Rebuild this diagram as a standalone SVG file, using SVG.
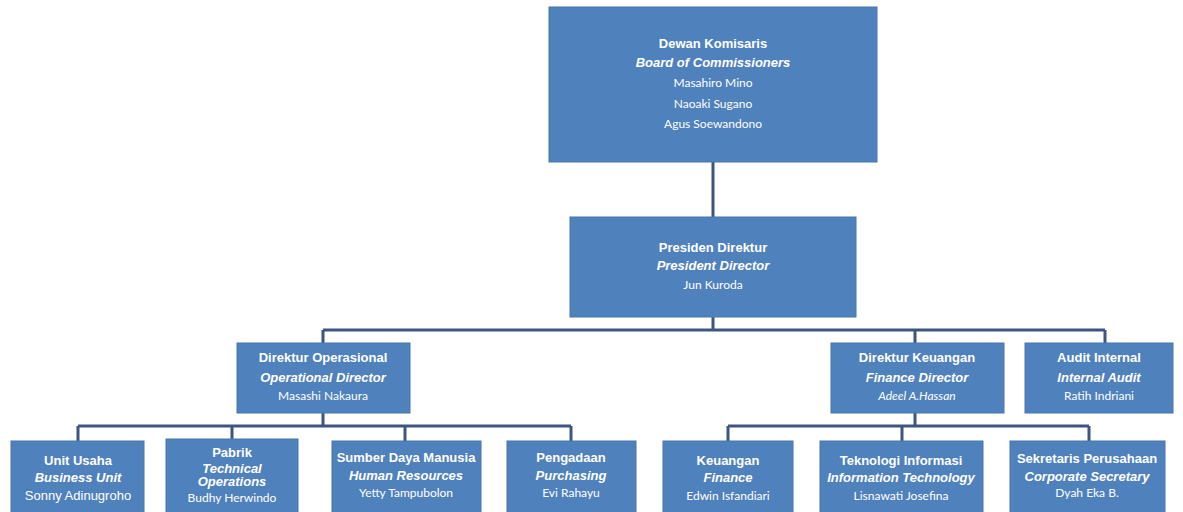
<svg xmlns="http://www.w3.org/2000/svg" width="1183" height="512" viewBox="0 0 1183 512">
<style>
.box{fill:#4f81bd;stroke:#4676ae;stroke-width:1}
.t{fill:#fff;font-family:"Liberation Sans",Arial,sans-serif;font-size:13px;font-weight:bold;text-anchor:middle}
.e{fill:#fff;font-family:"Liberation Sans",Arial,sans-serif;font-size:13px;font-weight:bold;font-style:italic;text-anchor:middle}
.n{fill:#fff;font-family:Lato,"Open Sans",sans-serif;font-size:12px;text-anchor:middle}
.na{fill:#fff;font-family:"Liberation Sans",Arial,sans-serif;font-size:13px;text-anchor:middle}
.c{fill:none;stroke:#3d5680;stroke-width:3}
</style>
<rect width="1183" height="512" fill="#fff"/>
<g id="connectors">
<path class="c" d="M713,162V217"/>
<path class="c" d="M713,317V330M323,330H1105M323,330V343M915,330V343M1105,330V343"/>
<path class="c" d="M323,413V426M78,426H571M78,426V441M232,426V439M405,426V441M571,426V441"/>
<path class="c" d="M915,413V426M728,426H1089M728,426V441M902,426V441M1089,426V441"/>
</g>
<g id="board">
<rect class="box" x="549" y="7" width="328" height="155"/>
<text class="t" x="713" y="48">Dewan Komisaris</text>
<text class="e" x="713" y="67">Board of Commissioners</text>
<text class="n" x="713" y="87">Masahiro Mino</text>
<text class="n" x="713" y="108">Naoaki Sugano</text>
<text class="n" x="713" y="128">Agus Soewandono</text>
</g>
<g id="president">
<rect class="box" x="570" y="217" width="286" height="100"/>
<text class="t" x="713" y="252">Presiden Direktur</text>
<text class="e" x="713" y="270">President Director</text>
<text class="n" x="713" y="289">Jun Kuroda</text>
</g>
<g id="operational">
<rect class="box" x="237" y="343" width="173" height="70"/>
<text class="t" x="323" y="362">Direktur Operasional</text>
<text class="e" x="323" y="382">Operational Director</text>
<text class="n" x="323" y="400">Masashi  Nakaura</text>
</g>
<g id="finance-director">
<rect class="box" x="831" y="343" width="173" height="70"/>
<text class="t" x="917" y="362">Direktur Keuangan</text>
<text class="e" x="917" y="382">Finance Director</text>
<text class="n" x="917" y="400" font-style="italic">Adeel A.Hassan</text>
</g>
<g id="audit">
<rect class="box" x="1025" y="343" width="148" height="70"/>
<text class="t" x="1099" y="362">Audit Internal</text>
<text class="e" x="1099" y="382">Internal Audit</text>
<text class="n" x="1099" y="400">Ratih Indriani</text>
</g>
<g id="business-unit">
<rect class="box" x="11" y="441" width="133" height="80"/>
<text class="t" x="78" y="465">Unit Usaha</text>
<text class="e" x="78" y="482">Business Unit</text>
<text class="na" x="78" y="500">Sonny Adinugroho</text>
</g>
<g id="technical">
<rect class="box" x="166" y="439" width="132" height="80"/>
<text class="t" x="232" y="457">Pabrik</text>
<text class="e" x="232" y="473" font-size="12.5">Technical</text>
<text class="e" x="232" y="486" font-size="12.5">Operations</text>
<text class="n" x="232" y="502">Budhy Herwindo</text>
</g>
<g id="hr">
<rect class="box" x="332" y="441" width="149" height="80"/>
<text class="t" x="406" y="462">Sumber Daya Manusia</text>
<text class="e" x="406" y="480">Human Resources</text>
<text class="n" x="406" y="497">Yetty Tampubolon</text>
</g>
<g id="purchasing">
<rect class="box" x="507" y="441" width="129" height="80"/>
<text class="t" x="571" y="462">Pengadaan</text>
<text class="e" x="571" y="480">Purchasing</text>
<text class="n" x="571" y="497">Evi  Rahayu</text>
</g>
<g id="finance">
<rect class="box" x="663" y="441" width="130" height="80"/>
<text class="t" x="728" y="465">Keuangan</text>
<text class="e" x="728" y="482">Finance</text>
<text class="n" x="728" y="500">Edwin Isfandiari</text>
</g>
<g id="it">
<rect class="box" x="820" y="441" width="163" height="80"/>
<text class="t" x="901" y="465">Teknologi Informasi</text>
<text class="e" x="901" y="482">Information Technology</text>
<text class="n" x="901" y="500">Lisnawati  Josefina</text>
</g>
<g id="secretary">
<rect class="box" x="1010" y="441" width="155" height="80"/>
<text class="t" x="1087" y="463">Sekretaris Perusahaan</text>
<text class="e" x="1087" y="481">Corporate Secretary</text>
<text class="n" x="1087" y="497">Dyah Eka  B.</text>
</g>
</svg>
